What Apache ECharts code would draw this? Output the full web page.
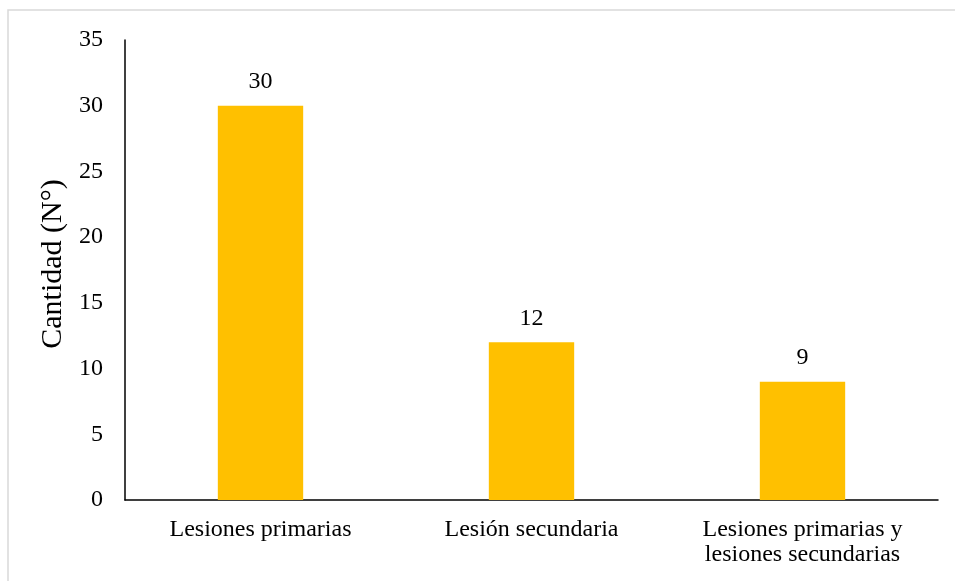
<!DOCTYPE html>
<html>
<head>
<meta charset="utf-8">
<style>
html,body{margin:0;padding:0;background:#fff;}
#c{width:955px;height:581px;}
</style>
<script src="https://cdn.jsdelivr.net/npm/echarts@6/dist/echarts.min.js"></script>
</head>
<body>
<div id="c"></div>
<script>
const categories = ['Lesiones primarias', 'Lesión secundaria', 'Lesiones primarias y\nlesiones secundarias'];
const values = [30, 12, 9];
const yAxisName = 'Cantidad (N°)';

const chart = echarts.init(document.getElementById('c'), null, {renderer: 'canvas'});
const font = '"Liberation Serif", "Times New Roman", serif';
chart.setOption({
  animation: false,
  backgroundColor: '#fff',
  graphic: [{
    type: 'rect',
    shape: {x: 8, y: 10, width: 1000, height: 700},
    style: {fill: 'none', stroke: '#d9d9d9', lineWidth: 1.5},
    silent: true, z: -10
  }],
  grid: {left: 125, top: 40, right: 17, bottom: 81, containLabel: false},
  xAxis: {
    type: 'category',
    data: categories,
    axisLine: {lineStyle: {color: '#000', width: 1.5}},
    axisTick: {show: false},
    axisLabel: {color: '#000', fontFamily: font, fontSize: 24, margin: 17, lineHeight: 25, interval: 0}
  },
  yAxis: {
    type: 'value',
    min: 0, max: 35, interval: 5,
    name: yAxisName,
    nameLocation: 'middle',
    nameGap: 45,
    nameRotate: 90,
    nameTextStyle: {color: '#000', fontFamily: font, fontSize: 30, padding: [0, 0, 0, 12]},
    axisLine: {show: true, lineStyle: {color: '#000', width: 1.5}},
    axisTick: {show: false},
    splitLine: {show: false},
    axisLabel: {color: '#000', fontFamily: font, fontSize: 24, margin: 22}
  },
  series: [{
    type: 'bar',
    data: values,
    barWidth: '31.5%',
    itemStyle: {color: '#FFC000'},
    label: {show: true, position: 'top', distance: 12, color: '#000', fontFamily: font, fontSize: 24}
  }]
});
</script>
</body>
</html>
